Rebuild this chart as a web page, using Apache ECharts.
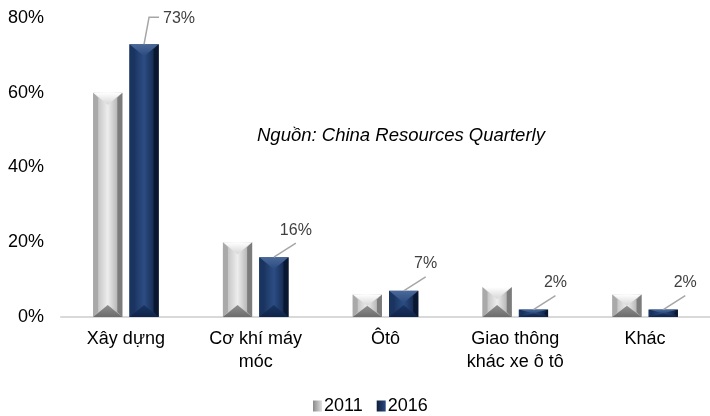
<!DOCTYPE html>
<html>
<head>
<meta charset="utf-8">
<script src="https://cdn.jsdelivr.net/npm/echarts@6/dist/echarts.min.js"></script>
<style>
  html, body { margin: 0; padding: 0; background: #fff; }
  #chart { width: 710px; height: 416px; }
</style>
</head>
<body>
<div id="chart"></div>
<script>
  // du lieu doc tu hinh
  var categories = ['Xây dựng', 'Cơ khí máy\nmóc', 'Ôtô', 'Giao thông\nkhác xe ô tô', 'Khác']
  var values2011 = [60, 20, 6, 8, 6]
  var values2016 = [73, 16, 7, 2, 2]
  var seriesNames = ['2011', '2016']
  var yTicks = [0, 20, 40, 60, 80]

  var FONT = '"Liberation Sans", Arial, sans-serif'

  // mau cho hieu ung vat canh
  var palettes = [
    { face: ['#b2b2b2', '#ededed', '#9c9c9c'], left: '#a9a9a9', right: '#7c7c7c',
      top: ['#ffffff', '#d6d6d6'], bottom: ['#8e8e8e', '#6c6c6c'] },
    { face: ['#132a50', '#2c4d84', '#0c1c3a'], left: '#1a3462', right: '#0a1730',
      top: ['#4b6999', '#2a4a80'], bottom: ['#1a3562', '#10244a'] }
  ]

  function hgrad (stops) {
    return new echarts.graphic.LinearGradient(0, 0, 1, 0, stops.map(function (c, i) {
      return { offset: i / (stops.length - 1), color: c }
    }))
  }
  function vgrad (c0, c1) {
    return new echarts.graphic.LinearGradient(0, 0, 0, 1, [{ offset: 0, color: c0 }, { offset: 1, color: c1 }])
  }

  function bevel (seriesIdx) {
    var p = palettes[seriesIdx]
    return function (params, api) {
      var cat = api.value(0)
      var val = api.value(1)
      var band = api.size([1, 0])[0]
      var w = band * 0.225
      var gap = band * 0.055
      var c = api.coord([cat, val])
      var base = api.coord([cat, 0])
      var x = seriesIdx === 0 ? c[0] - gap / 2 - w : c[0] + gap / 2
      var y0 = c[1]
      var y1 = base[1]
      var h = y1 - y0
      var s = Math.min(5, h / 2)
      var dy = Math.min(12, h / 2)
      var kids = [
        { type: 'rect', shape: { x: x, y: y0, width: w, height: h }, style: { fill: hgrad(p.face) } },
        { type: 'polygon', shape: { points: [[x, y0], [x + s, y0 + s], [x + s, y1 - s], [x, y1]] },
          style: { fill: p.left } },
        { type: 'polygon', shape: { points: [[x + w, y0], [x + w - s, y0 + s], [x + w - s, y1 - s], [x + w, y1]] },
          style: { fill: p.right } },
        { type: 'polygon', shape: { points: [[x, y0], [x + w, y0], [x + w / 2, y0 + dy]] },
          style: { fill: vgrad(p.top[0], p.top[1]) } },
        { type: 'polygon', shape: { points: [[x, y1], [x + w, y1], [x + w / 2, y1 - dy]] },
          style: { fill: vgrad(p.bottom[0], p.bottom[1]) } }
      ]
      if (seriesIdx === 1) {
        var cx = x + w / 2
        var pts, tx, ty, align
        if (params.dataIndex === 0) {
          pts = [[cx, y0], [cx + 5, y0 - 27], [cx + 15, y0 - 27]]
          tx = cx + 19; ty = y0 - 26; align = 'left'
        } else {
          pts = [[cx, y0], [cx + 22, y0 - 14]]
          tx = cx + 22; ty = y0 - 27; align = 'center'
        }
        kids.push({ type: 'polyline', shape: { points: pts }, style: { stroke: '#a6a6a6', lineWidth: 1.5, fill: null } })
        kids.push({ type: 'text', x: tx, y: ty,
          style: { text: val + '%', fill: '#404040', font: '16px ' + FONT, align: align, verticalAlign: 'middle' } })
      }
      return { type: 'group', children: kids }
    }
  }

  var chart = echarts.init(document.getElementById('chart'))
  var option = {
    animation: false,
    grid: { left: 61, right: -7, top: 18, bottom: 99 },
    legend: {
      data: seriesNames,
      top: 392,
      left: 308,
      icon: 'rect',
      itemWidth: 9,
      itemHeight: 11,
      itemGap: 14,
      textStyle: { fontFamily: FONT, fontSize: 18, color: '#000', padding: [0, 0, 0, -3] }
    },
    graphic: [{
      type: 'text',
      left: 257,
      top: 126,
      style: { text: 'Nguồn: China Resources Quarterly', font: 'italic 18.5px ' + FONT, fill: '#000' }
    }],
    xAxis: {
      type: 'category',
      data: categories,
      axisLine: { lineStyle: { color: '#d9d9d9', width: 2 } },
      axisTick: { show: false },
      axisLabel: { fontFamily: FONT, fontSize: 18, color: '#000', margin: 11, lineHeight: 23 }
    },
    yAxis: {
      type: 'value',
      min: yTicks[0],
      max: yTicks[yTicks.length - 1],
      interval: 20,
      axisLine: { show: false },
      axisTick: { show: false },
      splitLine: { show: false },
      axisLabel: { fontFamily: FONT, fontSize: 18, color: '#000', margin: 17, formatter: '{value}%' }
    },
    series: [
      {
        name: seriesNames[0],
        type: 'custom',
        itemStyle: { color: hgrad(['#8a8a8a', '#e0e0e0']) },
        renderItem: bevel(0),
        data: values2011.map(function (v, i) { return [i, v] })
      },
      {
        name: seriesNames[1],
        type: 'custom',
        itemStyle: { color: hgrad(['#0e1e3a', '#2a4a80']) },
        renderItem: bevel(1),
        data: values2016.map(function (v, i) { return [i, v] })
      }
    ]
  }
  chart.setOption(option)
</script>
</body>
</html>
